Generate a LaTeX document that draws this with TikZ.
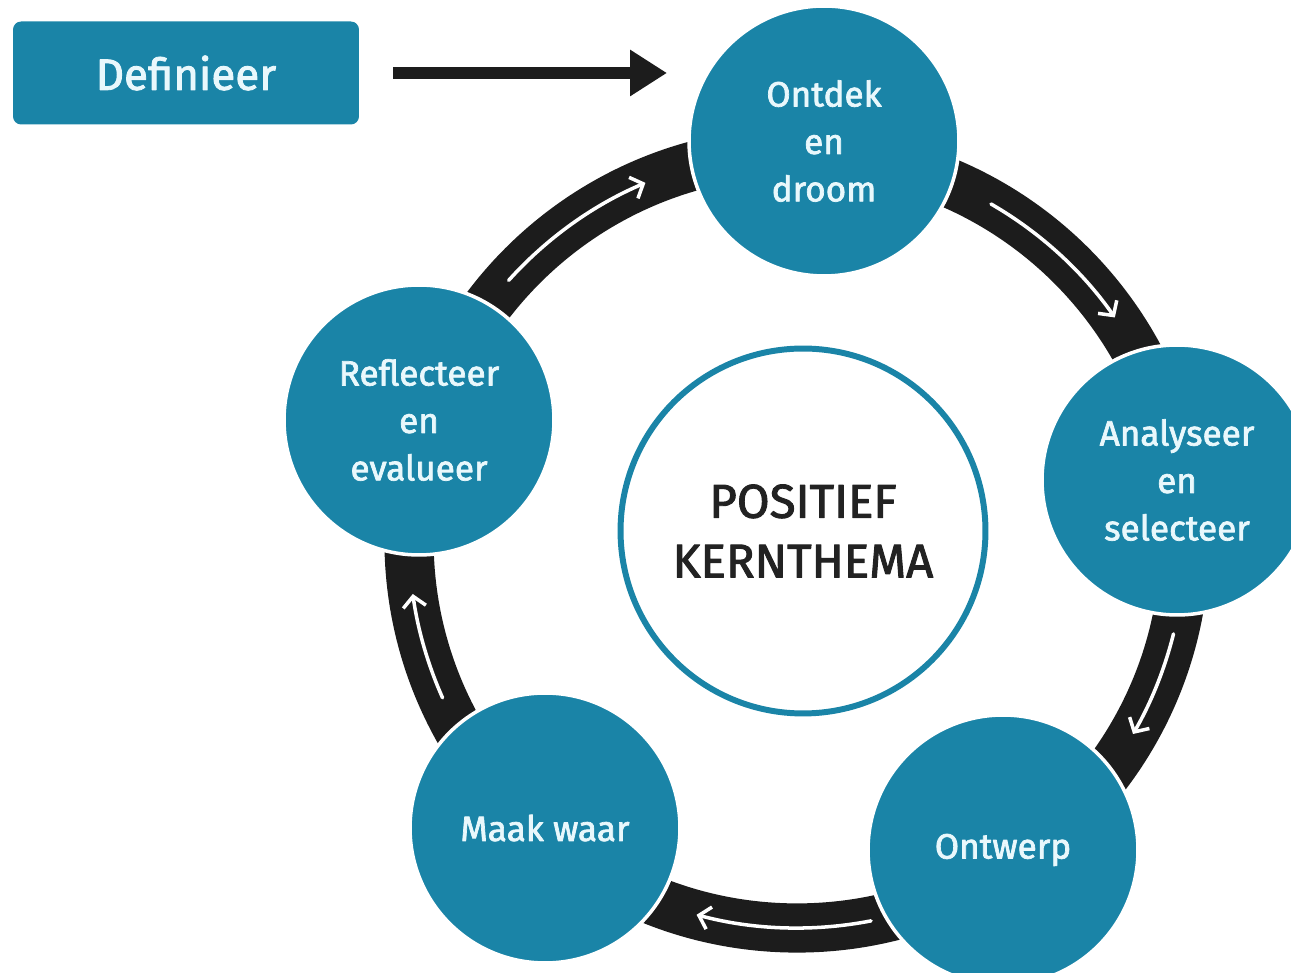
\documentclass[tikz,border=0pt]{standalone}
\usepackage{fontspec}
\setmainfont{Fira Sans}
\newfontfamily\stapfont{Fira Sans}[FakeBold=2]
\usetikzlibrary{arrows.meta}
\definecolor{zeeblauw}{HTML}{1A84A7}
\definecolor{lichttekst}{HTML}{E9F8FC}
\definecolor{donker}{HTML}{222222}
\definecolor{ringzwart}{HTML}{1C1C1C}
\begin{document}
\begin{tikzpicture}[x=0.02cm, y=0.02cm, line join=round,
    stap/.style={circle, fill=zeeblauw, draw=white, line width=2pt, minimum size=5.4cm, inner sep=0pt,
      align=center, text=lichttekst, font=\stapfont\fontsize{20}{27}\selectfont},
    kern/.style={circle, draw=zeeblauw, line width=3.4pt, fill=white, minimum size=7.3cm, inner sep=0pt,
      align=center, text=donker, font=\stapfont\fontsize{27}{34}\selectfont},
    defbox/.style={rectangle, rounded corners=0.16cm, fill=zeeblauw, minimum width=6.92cm, minimum height=2.06cm,
      text=lichttekst, font=\stapfont\fontsize{25}{30}\selectfont},
    band/.style={draw=ringzwart, line width=28pt},
    witpijl/.style={draw=white, line width=2pt, line cap=round, -{Straight Barb[length=6pt, width=13pt, line width=2pt]}},
    startpijl/.style={draw=ringzwart, line width=6.8pt, -{Triangle[length=21pt, width=25pt]}}]
  \useasboundingbox (0,0) rectangle (1291,973);
  \coordinate (ring) at (797,433);
  \draw[band] (ring) circle[radius=388];
  \foreach \van/\naar in {138/113, 60/35, -14/-30, -79/-105, 204/188}
    \draw[witpijl] ([shift={(\van:388)}]ring) arc[start angle=\van, end angle=\naar, radius=388];
  \node[stap] (ontdek) at (824,832) {Ontdek\\en\\droom};
  \node[stap] (analyseer) at (1177,493) {Analyseer\\en\\selecteer};
  \node[stap] (ontwerp) at (1003,123) {Ontwerp};
  \node[stap] (maakwaar) at (545,145) {Maak waar};
  \node[stap] (reflecteer) at (419,553) {Reflecteer\\en\\evalueer};
  \node[kern] (thema) at (803,442) {POSITIEF\\KERNTHEMA};
  \node[defbox] (definieer) at (186,900) {Definieer};
  \coordinate (instap) at (667,900);
  \draw[startpijl, shorten <=0.68cm] (definieer.east) -- (instap);
\end{tikzpicture}
\end{document}
